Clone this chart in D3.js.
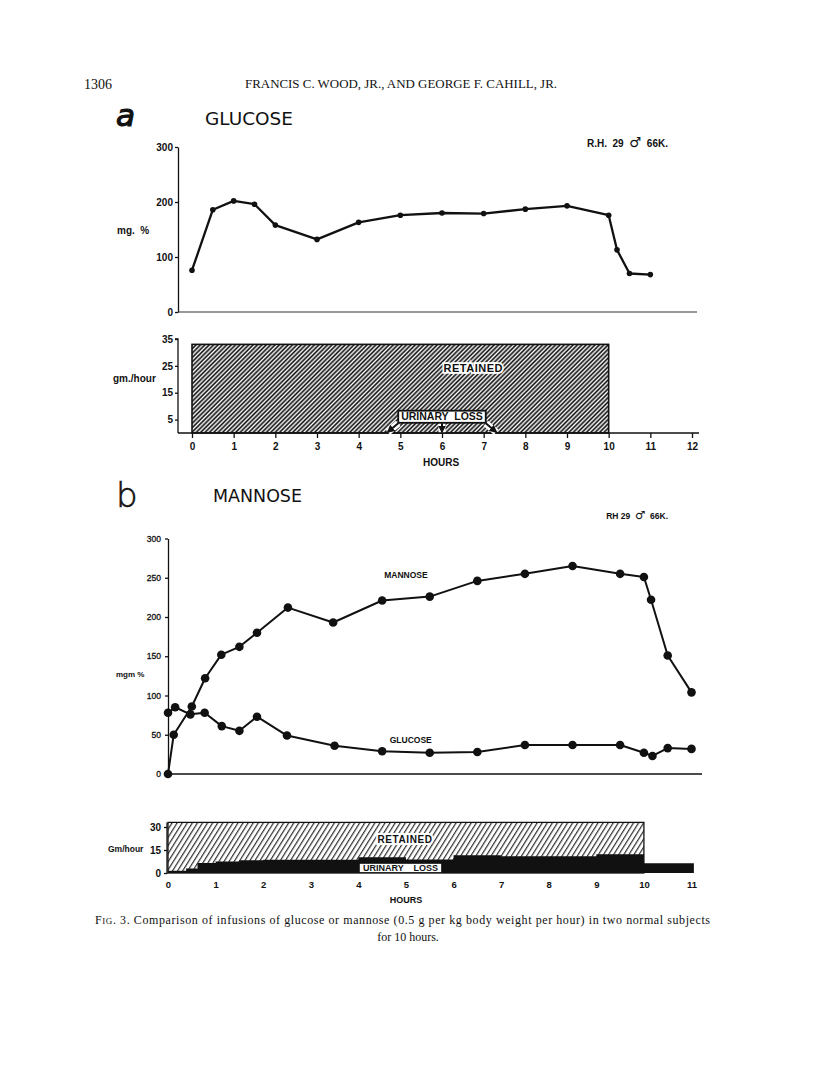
<!DOCTYPE html>
<html><head><meta charset="utf-8">
<script src="https://cdn.jsdelivr.net/npm/d3@7"></script>
<style>body{margin:0;background:#fff}svg{display:block}</style>
</head><body>
<svg id="c" width="816" height="1072"></svg>
<script>
// ---------- DATA ----------
// Panel a: glucose infusion, blood glucose (mg %)
const glucoseAHours  = [0, 0.5, 1, 1.5, 2, 3, 4, 5, 6, 7, 8, 9, 10, 10.2, 10.5, 11];
const glucoseAValues = [76, 186, 202, 196, 158, 132, 163, 176, 180, 179, 187, 193, 176, 113, 70, 68];
const yTicksATop = [0, 100, 200, 300];
const yTicksABar = [5, 15, 25, 35];
const xTicksA = [0,1,2,3,4,5,6,7,8,9,10,11,12];
// Panel a: infusion (gm/hour) retained
const retainedAStart = 0, retainedAEnd = 10, retainedAValue = 33;

// Panel b: mannose infusion, blood mannose and glucose (mgm %)
const mannoseBHours  = [0, 0.12, 0.5, 0.78, 1.12, 1.5, 1.87, 2.52, 3.47, 4.5, 5.5, 6.5, 7.5, 8.5, 9.5, 10, 10.15, 10.5, 11];
const mannoseBValues = [0, 50, 86, 122, 152, 162, 180, 212, 193, 221, 226, 246, 255, 265, 255, 251, 222, 151, 104];
const glucoseBHours  = [0, 0.15, 0.47, 0.77, 1.13, 1.5, 1.87, 2.5, 3.5, 4.5, 5.5, 6.5, 7.5, 8.5, 9.5, 10, 10.18, 10.5, 11];
const glucoseBValues = [78, 85, 76, 78, 61, 55, 73, 49, 36, 29, 27, 28, 37, 37, 37, 27, 23, 33, 32];
const yTicksBTop = [0, 50, 100, 150, 200, 250, 300];
const yTicksBBar = [0, 15, 30];
const xTicksB = [0,1,2,3,4,5,6,7,8,9,10,11];
// Panel b: infusion retained and urinary loss (Gm/hour), step series
const retainedBStart = 0, retainedBEnd = 10, retainedBValue = 33;
const urinaryBHours  = [0, 0.38, 0.62, 1.0, 1.5, 2, 4, 5, 6, 7, 9, 10, 11.05];
const urinaryBValues = [1.5, 3, 6.6, 7.5, 8.3, 8.7, 10.3, 8.8, 11.5, 11, 12.2, 6.3, 6.3];

// ---------- DRAW ----------
const svg = d3.select('#c');
const INK = '#111';
const LBL = 'Liberation Sans, Arial, sans-serif';
const SERIF = 'Liberation Serif, Times New Roman, serif';

const defs = svg.append('defs');
defs.append('pattern').attr('id','hatchA').attr('patternUnits','userSpaceOnUse')
  .attr('width',3.1).attr('height',10).attr('patternTransform','rotate(45)')
  .append('line').attr('x1',1.2).attr('y1',-1).attr('x2',1.2).attr('y2',11)
  .attr('stroke',INK).attr('stroke-width',1.65);
defs.append('pattern').attr('id','hatchB').attr('patternUnits','userSpaceOnUse')
  .attr('width',4.3).attr('height',10).attr('patternTransform','rotate(32)')
  .append('line').attr('x1',1.5).attr('y1',-1).attr('x2',1.5).attr('y2',11)
  .attr('stroke',INK).attr('stroke-width',1.05);
defs.append('marker').attr('id','arr').attr('viewBox','0 0 10 10').attr('refX',8).attr('refY',5)
  .attr('markerWidth',4).attr('markerHeight',4).attr('orient','auto')
  .append('path').attr('d','M0,0 L10,5 L0,10 z').attr('fill',INK);

function subjectLabel(x, y, fs, parts){
  const t = svg.append('text').attr('x',x).attr('y',y).attr('text-anchor','end').attr('font-family',LBL)
    .attr('font-weight','bold').attr('font-size',fs).attr('fill',INK).attr('xml:space','preserve');
  t.append('tspan').text(parts[0]);
  t.append('tspan').attr('font-family','DejaVu Sans, sans-serif').attr('font-size',fs*1.35).text('\u2642');
  t.append('tspan').text(parts[1]);
}

// Header
svg.append('text').attr('x',84).attr('y',89).attr('font-family',SERIF).attr('font-size',14).attr('fill',INK).text('1306');
svg.append('text').attr('x',245).attr('y',88).attr('font-family',SERIF).attr('font-size',11.5).attr('fill',INK)
  .attr('textLength',312).attr('lengthAdjust','spacingAndGlyphs')
  .text('FRANCIS C. WOOD, JR., AND GEORGE F. CAHILL, JR.');

// Panel a titles
svg.append('text').attr('x',116).attr('y',126).attr('font-family','DejaVu Sans, sans-serif').attr('font-style','italic')
  .attr('font-size',31).attr('fill',INK).attr('stroke',INK).attr('stroke-width',1.2).text('a');
svg.append('text').attr('x',205).attr('y',125).attr('font-family','DejaVu Sans, sans-serif').attr('font-size',18)
  .attr('fill',INK).attr('textLength',88).attr('lengthAdjust','spacingAndGlyphs').text('GLUCOSE');
subjectLabel(668, 147, 10, ['R.H.  29  ', '  66K.']);

// Panel a scales
const xA = d3.scaleLinear().domain([0,12]).range([192,692]);
const yATop = d3.scaleLinear().domain([0,300]).range([312,147]);
const yABar = d3.scaleLinear().domain([0,35]).range([433,339]);
const axisXA = 178;

function styleAxis(g, fs){
  g.selectAll('path.domain').attr('stroke',INK).attr('stroke-width',1.3);
  g.selectAll('line').attr('stroke',INK).attr('stroke-width',1.3);
  g.selectAll('text').attr('font-family',LBL).attr('font-weight','bold').attr('font-size',fs).attr('fill',INK);
}

// Top chart a: y axis
const gAy = svg.append('g').attr('transform',`translate(${axisXA},0)`)
  .call(d3.axisLeft(yATop).tickValues(yTicksATop).tickSize(3).tickSizeOuter(0).tickPadding(2));
styleAxis(gAy,10);
svg.append('line').attr('x1',axisXA).attr('x2',697).attr('y1',yATop(0)).attr('y2',yATop(0)).attr('stroke','#333').attr('stroke-width',1.2);
svg.append('text').attr('x',117).attr('y',234).attr('font-family',LBL).attr('font-weight','bold').attr('font-size',10)
  .attr('fill',INK).attr('xml:space','preserve').text('mg.  %');

const lineA = d3.line().x((d,i)=>xA(glucoseAHours[i])).y(d=>yATop(d));
svg.append('path').datum(glucoseAValues).attr('d',lineA).attr('fill','none').attr('stroke',INK).attr('stroke-width',2.3).attr('stroke-linejoin','round');
svg.selectAll('circle.ga').data(glucoseAValues).enter().append('circle').attr('class','ga')
  .attr('cx',(d,i)=>xA(glucoseAHours[i])).attr('cy',d=>yATop(d)).attr('r',2.8).attr('fill',INK);

// Bar chart a
svg.append('rect').attr('x',xA(retainedAStart)).attr('y',yABar(retainedAValue))
  .attr('width',xA(retainedAEnd)-xA(retainedAStart)).attr('height',yABar(0)-yABar(retainedAValue))
  .attr('fill','url(#hatchA)').attr('stroke',INK).attr('stroke-width',1.6);
const gAby = svg.append('g').attr('transform',`translate(${axisXA},0)`)
  .call(d3.axisLeft(yABar).tickValues(yTicksABar).tickSize(3).tickSizeOuter(0).tickPadding(2));
gAby.select('path.domain').attr('d',`M-3,${yABar(35)}H0V${yABar(0)}`);
styleAxis(gAby,10);
const gAbx = svg.append('g').attr('transform',`translate(0,${yABar(0)})`)
  .call(d3.axisBottom(xA).tickValues(xTicksA).tickSize(5).tickSizeOuter(0).tickPadding(5));
gAbx.select('path.domain').attr('d',`M${axisXA},0H699`);
styleAxis(gAbx,10);
svg.append('text').attr('x',441).attr('y',466).attr('text-anchor','middle').attr('font-family',LBL).attr('font-weight','bold')
  .attr('font-size',10).attr('fill',INK).text('HOURS');
svg.append('text').attr('x',113).attr('y',382).attr('font-family',LBL).attr('font-weight','bold').attr('font-size',10)
  .attr('fill',INK).text('gm./hour');
svg.append('text').attr('x',xA(6.75)).attr('y',yABar(22.6)).attr('text-anchor','middle').attr('font-family',LBL)
  .attr('font-weight','bold').attr('font-size',11).attr('fill',INK).attr('stroke','#fff').attr('stroke-width',3.5)
  .attr('paint-order','stroke').attr('letter-spacing',0.5).text('RETAINED');
// urinary loss arrows
const arrowsA = [[4.95,4.7],[6,6],[7.05,7.3]];
arrowsA.forEach(([x0,x1])=>{
  svg.append('line').attr('x1',xA(x0)).attr('y1',yABar(3.6)).attr('x2',xA(x1)).attr('y2',yABar(0.3))
    .attr('stroke','#fff').attr('stroke-width',7);
});
arrowsA.forEach(([x0,x1])=>{
  svg.append('line').attr('x1',xA(x0)).attr('y1',yABar(3.6)).attr('x2',xA(x1)).attr('y2',yABar(0.4))
    .attr('stroke',INK).attr('stroke-width',2).attr('marker-end','url(#arr)');
});
svg.append('rect').attr('x',xA(4.95)).attr('y',yABar(8.3)).attr('width',xA(7.05)-xA(4.95)).attr('height',yABar(3.8)-yABar(8.3))
  .attr('fill','#fff').attr('stroke',INK).attr('stroke-width',1.8);
svg.append('text').attr('x',xA(6)).attr('y',yABar(4.7)).attr('text-anchor','middle').attr('font-family',LBL)
  .attr('font-weight','bold').attr('font-size',10.5).attr('fill',INK).attr('xml:space','preserve').text('URINARY  LOSS');

// Panel b titles
svg.append('text').attr('x',116).attr('y',507).attr('font-family','DejaVu Sans, sans-serif')
  .attr('font-size',34).attr('font-weight',300).attr('fill',INK).attr('stroke',INK).attr('stroke-width',0.6).text('b');
svg.append('text').attr('x',213).attr('y',502).attr('font-family','DejaVu Sans, sans-serif').attr('font-size',17)
  .attr('fill',INK).attr('textLength',89).attr('lengthAdjust','spacingAndGlyphs').text('MANNOSE');
subjectLabel(668, 519, 8.5, ['RH 29  ', '  66K.']);

// Panel b scales
const xB = d3.scaleLinear().domain([0,11]).range([168,691.5]);
const yBTop = d3.scaleLinear().domain([0,300]).range([774,538.5]);
const yBBar = d3.scaleLinear().domain([0,30]).range([873,827]);

const gBy = svg.append('g').attr('transform',`translate(${xB(0)},0)`)
  .call(d3.axisLeft(yBTop).tickValues(yTicksBTop).tickSize(3).tickSizeOuter(0).tickPadding(4));
styleAxis(gBy,8.5);
gBy.selectAll('text').attr('font-weight','normal').attr('stroke',INK).attr('stroke-width',0.3);
svg.append('line').attr('x1',xB(0)).attr('x2',702).attr('y1',yBTop(0)).attr('y2',yBTop(0)).attr('stroke',INK).attr('stroke-width',1.3);
svg.append('text').attr('x',116).attr('y',677).attr('font-family',LBL).attr('font-weight','bold').attr('font-size',8)
  .attr('fill',INK).text('mgm %');

const lineM = d3.line().x((d,i)=>xB(mannoseBHours[i])).y(d=>yBTop(d));
const lineG = d3.line().x((d,i)=>xB(glucoseBHours[i])).y(d=>yBTop(d));
svg.append('path').datum(mannoseBValues).attr('d',lineM).attr('fill','none').attr('stroke',INK).attr('stroke-width',2).attr('stroke-linejoin','round');
svg.append('path').datum(glucoseBValues).attr('d',lineG).attr('fill','none').attr('stroke',INK).attr('stroke-width',2).attr('stroke-linejoin','round');
svg.selectAll('circle.mb').data(mannoseBValues).enter().append('circle').attr('class','mb')
  .attr('cx',(d,i)=>xB(mannoseBHours[i])).attr('cy',d=>yBTop(d)).attr('r',4.3).attr('fill',INK);
svg.selectAll('circle.gb').data(glucoseBValues).enter().append('circle').attr('class','gb')
  .attr('cx',(d,i)=>xB(glucoseBHours[i])).attr('cy',d=>yBTop(d)).attr('r',4.3).attr('fill',INK);
svg.append('text').attr('x',xB(5)).attr('y',yBTop(250)).attr('text-anchor','middle').attr('font-family',LBL).attr('font-weight','bold')
  .attr('font-size',8.5).attr('fill',INK).text('MANNOSE');
svg.append('text').attr('x',xB(5.1)).attr('y',yBTop(39)).attr('text-anchor','middle').attr('font-family',LBL).attr('font-weight','bold')
  .attr('font-size',8.5).attr('fill',INK).text('GLUCOSE');

// Bar chart b
svg.append('rect').attr('x',xB(retainedBStart)).attr('y',yBBar(retainedBValue))
  .attr('width',xB(retainedBEnd)-xB(retainedBStart)).attr('height',yBBar(0)-yBBar(retainedBValue))
  .attr('fill','url(#hatchB)').attr('stroke',INK).attr('stroke-width',1.3);
const areaU = d3.area().curve(d3.curveStepAfter).x((d,i)=>xB(urinaryBHours[i])).y0(yBBar(0)).y1(d=>yBBar(d));
svg.append('path').datum(urinaryBValues).attr('d',areaU).attr('fill',INK);
const gBby = svg.append('g').attr('transform',`translate(${xB(0)-1},0)`)
  .call(d3.axisLeft(yBBar).tickValues(yTicksBBar).tickSize(3).tickSizeOuter(0).tickPadding(3));
gBby.select('path.domain').attr('d',`M0,${yBBar(33)}V${yBBar(0)+1}`);
styleAxis(gBby,10);
const gBbx = svg.append('g').attr('transform',`translate(0,${yBBar(0)+2})`)
  .call(d3.axisBottom(xB).tickValues(xTicksB).tickSize(0).tickPadding(6));
gBbx.select('path.domain').remove();
styleAxis(gBbx,9.5);
svg.append('text').attr('x',406).attr('y',903).attr('text-anchor','middle').attr('font-family',LBL).attr('font-weight','bold')
  .attr('font-size',9).attr('fill',INK).text('HOURS');
svg.append('text').attr('x',108).attr('y',852).attr('font-family',LBL).attr('font-weight','bold').attr('font-size',8.5)
  .attr('fill',INK).text('Gm/hour');
svg.append('text').attr('x',xB(4.98)).attr('y',yBBar(19.5)).attr('text-anchor','middle').attr('font-family',LBL)
  .attr('font-weight','bold').attr('font-size',10).attr('fill',INK).attr('stroke','#fff').attr('stroke-width',4)
  .attr('paint-order','stroke').attr('letter-spacing',0.6).text('RETAINED');
svg.append('rect').attr('x',xB(4.02)).attr('y',yBBar(6.3)).attr('width',xB(5.75)-xB(4.02)).attr('height',yBBar(0.4)-yBBar(6.3))
  .attr('fill','#fff').attr('stroke',INK).attr('stroke-width',0.8);
svg.append('text').attr('x',xB(4.885)).attr('y',yBBar(1.2)).attr('text-anchor','middle').attr('font-family',LBL)
  .attr('font-weight','bold').attr('font-size',9).attr('fill',INK).attr('xml:space','preserve').text('URINARY    LOSS');

// Caption
const cap = svg.append('text').attr('x',95).attr('y',924).attr('font-family',SERIF).attr('font-size',12).attr('fill',INK)
  .attr('textLength',615).attr('lengthAdjust','spacing');
cap.append('tspan').text('F');
cap.append('tspan').attr('font-size',9).text('IG');
cap.append('tspan').text('. 3.  Comparison of infusions of glucose or mannose (0.5 g per kg body weight per hour) in two normal subjects');
svg.append('text').attr('x',408).attr('y',941).attr('text-anchor','middle').attr('font-family',SERIF).attr('font-size',12)
  .attr('fill',INK).text('for 10 hours.');
</script>
</body></html>
